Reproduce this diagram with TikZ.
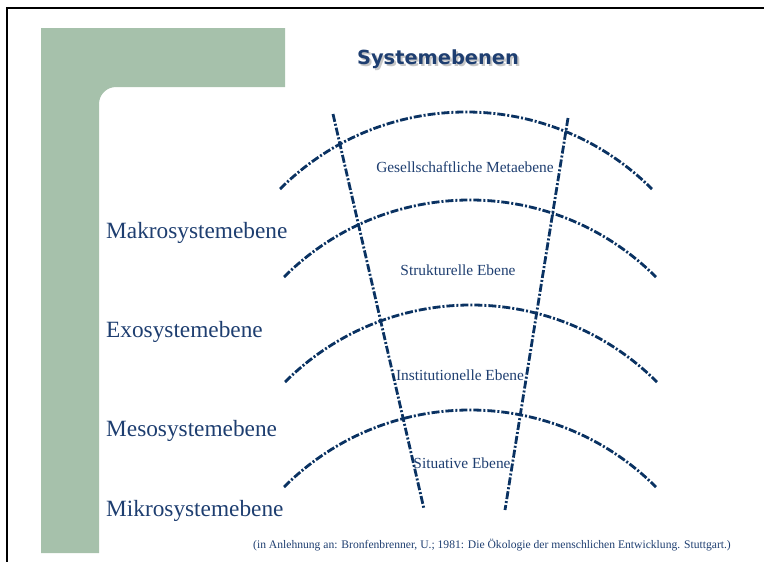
\documentclass[tikz,border=0pt]{standalone}
\usepackage{fontspec}
\setmainfont{Liberation Serif}
\newfontfamily\titelfont{DejaVu Sans}
\definecolor{rahmengruen}{RGB}{166,193,171}
\definecolor{ebenenblau}{RGB}{10,50,98}
\definecolor{textblau}{RGB}{30,62,112}
\tikzset{
  bogen/.style={ebenenblau, line width=2.8pt,
    dash pattern=on 8pt off 2pt on 2pt off 2pt},
  strahl/.style={bogen},
  systemlabel/.style={anchor=base west, inner sep=0pt, text=textblau,
    font=\fontsize{23.3}{28}\selectfont},
  ebenenlabel/.style={anchor=base, inner sep=0pt, text=textblau,
    font=\fontsize{15.4}{18}\selectfont}
}
% one arc of the level lines, (#1,#2) = its centre
\newcommand{\ebenenbogen}[2]{
  \draw[bogen] (#1,#2) ++(225:263) arc[start angle=225, end angle=315, radius=263];
}
% title text with its grey shadow
\newcommand{\schattentext}[1]{%
  \rlap{\hspace{2pt}\raisebox{-2pt}{\color{black!22}#1}}#1}

\begin{document}
\begin{tikzpicture}[x=1pt, y=-1pt]
  \useasboundingbox (0,0) rectangle (764,562);
  % slide frame and green corner bar
  \draw[line width=1.4pt] (7,562) -- (7,8) -- (764,8);
  \fill[rahmengruen] (41,28) -- (285,28) -- (285,87)
    [rounded corners=17pt] -- (99,87) [sharp corners] -- (99,553)
    -- (41,553) -- cycle;
  % title
  \node[text=textblau, font=\titelfont\bfseries\fontsize{19.4}{22}\selectfont]
    (titel) at (438,60) {\schattentext{Systemebenen}};
  % the four level arcs
  \foreach \cx/\cy in {466/375,470/463,471/568,470/673}
  {
     \ebenenbogen{\cx}{\cy}
  }
  % the two rays
  \coordinate (linksoben) at (333,114);
  \coordinate (linksunten) at (424,509);
  \coordinate (rechtsoben) at (568,118);
  \coordinate (rechtsunten) at (505,510);
  \draw[strahl] (linksoben) -- (linksunten);
  \draw[strahl] (rechtsoben) -- (rechtsunten);
  % level names
  \node[ebenenlabel] (meta) at (465,172) {Gesellschaftliche Metaebene};
  \node[ebenenlabel] (struktur) at (458,275) {Strukturelle Ebene};
  \node[ebenenlabel] (institution) at (460,380) {Institutionelle Ebene};
  \node[ebenenlabel] (situation) at (462,468) {Situative Ebene};
  % system names
  \node[systemlabel] (makro) at (106,238) {Makrosystemebene};
  \node[systemlabel] (exo) at (106,337) {Exosystemebene};
  \node[systemlabel] (meso) at (106,436) {Mesosystemebene};
  \node[systemlabel] (mikro) at (106,516) {Mikrosystemebene};
  % source
  \node[anchor=base, inner sep=0pt, text=textblau, font=\fontsize{11.6}{14}\selectfont]
    (quelle) at (492,548) {(in Anlehnung an: Bronfenbrenner, U.; 1981: Die Ökologie der menschlichen Entwicklung. Stuttgart.)};
\end{tikzpicture}
\end{document}
